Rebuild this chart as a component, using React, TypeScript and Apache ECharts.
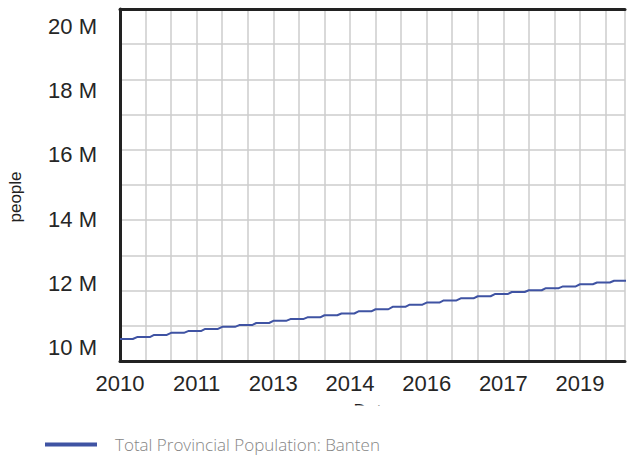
import React, { useEffect, useRef } from "react";
import * as echarts from "echarts";

// 4-monthly period starts (year, month) and the population (millions) held during each period
const periodStarts: [number, number][] = [
  [2010, 1], [2010, 5], [2010, 9],
  [2011, 1], [2011, 5], [2011, 9],
  [2012, 1], [2012, 5], [2012, 9],
  [2013, 1], [2013, 5], [2013, 9],
  [2014, 1], [2014, 5], [2014, 9],
  [2015, 1], [2015, 5], [2015, 9],
  [2016, 1], [2016, 5], [2016, 9],
  [2017, 1], [2017, 5], [2017, 9],
  [2018, 1], [2018, 5], [2018, 9],
  [2019, 1], [2019, 5], [2019, 9],
];
const populationMillions: number[] = [
  10.625, 10.68, 10.74,
  10.8, 10.85, 10.91,
  10.97, 11.02, 11.08,
  11.14, 11.19, 11.24,
  11.3, 11.35, 11.41,
  11.47, 11.54, 11.6,
  11.66, 11.72, 11.78,
  11.84, 11.9, 11.96,
  12.01, 12.07, 12.12,
  12.18, 12.23, 12.28,
];
const yTickLabels = ["10 M", "12 M", "14 M", "16 M", "18 M", "20 M"];
const seriesName = "Total Provincial Population: Banten";

export default function App() {
  const ref = useRef<HTMLDivElement>(null);
  useEffect(() => {
    if (!ref.current) return;
    const chart = echarts.init(ref.current, undefined, { renderer: "svg" });
    const data: [number, number][] = [];
    periodStarts.forEach(([y, m], i) => {
      const t = y + (m - 1) / 12;
      const v = populationMillions[i] * 1e6;
      data.push([t, v]);
      data.push([t + 3 / 12, v]);
    });
    const font = "Arial";
    const labelFor = (v: number) => {
      const k = Math.round(v / 2e6);
      if (Math.abs(v - k * 2e6) > 1) return "";
      const idx = k - 5;
      return yTickLabels[idx] ?? "";
    };
    chart.setOption({
      animation: false,
      grid: { left: 120, right: 0, top: 9, bottom: 95, containLabel: false },
      xAxis: [
        {
          type: "value",
          min: 2010,
          max: 2019.88,
          interval: 0.5,
          name: "Date",
          nameLocation: "middle",
          nameGap: 41,
          nameTextStyle: { fontSize: 18, color: "#222", fontFamily: font, fontWeight: "normal" },
          axisLine: { show: true, lineStyle: { color: "#222", width: 3 } },
          axisTick: { show: false },
          splitLine: { show: true, lineStyle: { color: "#cccccc", width: 1.5 } },
          axisLabel: {
            fontSize: 22,
            fontWeight: "normal",
            color: "#262626",
            fontFamily: font,
            margin: 11,
            formatter: (v: number) => {
              const q = (v - 2010) / 1.5;
              return Math.abs(q - Math.round(q)) < 1e-6 ? String(Math.floor(v + 1e-9)) : "";
            },
          },
        },
        {
          type: "value",
          position: "top",
          min: 2010,
          max: 2019.88,
          axisLine: { show: true, lineStyle: { color: "#222", width: 3 } },
          axisTick: { show: false },
          axisLabel: { show: false },
          splitLine: { show: false },
        },
      ],
      yAxis: [
        {
          type: "value",
          min: 10e6,
          max: 20e6,
          interval: 1e6,
          axisLine: { show: true, lineStyle: { color: "#222", width: 3 } },
          axisTick: { show: false },
          axisLabel: { show: false },
          splitLine: { show: true, lineStyle: { color: "#cccccc", width: 1.5 } },
        },
        {
          type: "value",
          position: "left",
          min: 9.59e6,
          max: 20.535e6,
          splitNumber: 5,
          axisLine: { show: false },
          axisTick: { show: false },
          splitLine: { show: false },
          axisLabel: {
            fontSize: 22,
            fontWeight: "normal",
            color: "#262626",
            fontFamily: font,
            margin: 23,
            formatter: labelFor,
          },
        },
      ],
      legend: {
        left: 40,
        top: 431,
        icon: "rect",
        itemWidth: 52,
        itemHeight: 4,
        z: 10,
        textStyle: {
          fontSize: 17,
          color: "#858585",
          fontFamily: "Open Sans, sans-serif",
          fontWeight: 300,
          padding: [0, 0, 0, 13],
        },
        data: [seriesName],
      },
      graphic: [
        {
          type: "rect",
          z: 5,
          shape: { x: 0, y: 405.5, width: 628, height: 51 },
          style: { fill: "#ffffff" },
        },
        {
          type: "text",
          x: 15,
          y: 197,
          rotation: Math.PI / 2,
          style: {
            text: "people",
            fontSize: 17,
            fontFamily: font,
            fontWeight: "normal",
            fill: "#222",
            align: "center",
            verticalAlign: "middle",
          },
        },
      ],
      series: [
        {
          name: seriesName,
          type: "line",
          xAxisIndex: 0,
          yAxisIndex: 0,
          data,
          showSymbol: false,
          lineStyle: { color: "#3f53a3", width: 2 },
          itemStyle: { color: "#3f53a3" },
        },
      ],
    });
    return () => chart.dispose();
  }, []);
  return (
    <div
      ref={ref}
      style={{ position: "absolute", left: 0, top: 0, width: 628, height: 456 }}
    />
  );
}
